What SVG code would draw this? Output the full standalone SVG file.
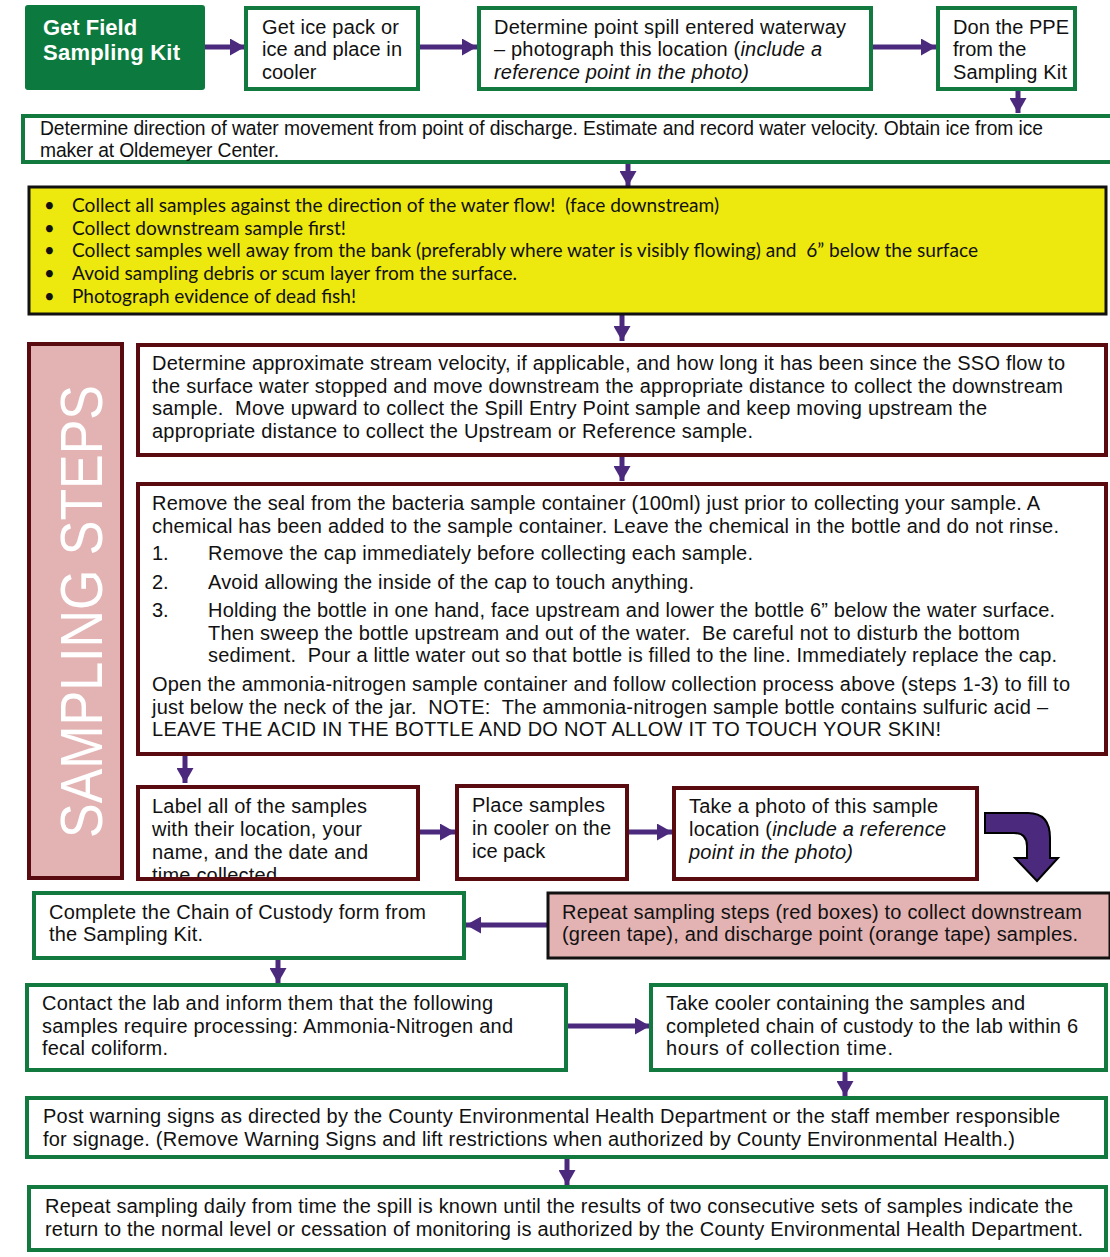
<svg xmlns="http://www.w3.org/2000/svg" width="1110" height="1257" viewBox="0 0 1110 1257">
<defs>
<style>
text{white-space:pre}
.g{fill:#fff;stroke:#137a3f;stroke-width:4}
.r{fill:#fff;stroke:#5a0b10;stroke-width:4}
.t{font-family:"Liberation Sans",Arial,sans-serif;font-size:20px;fill:#111}
.s{font-family:"Liberation Sans",Arial,sans-serif;font-size:19.3px;fill:#111}
.y{font-family:Lato,"Open Sans",sans-serif;font-size:18.5px;fill:#111}
.i{font-style:italic}
.a{stroke:#4b2a7d;stroke-width:5;fill:none;marker-end:url(#ah)}
</style>
<marker id="ah" markerUnits="userSpaceOnUse" markerWidth="15" markerHeight="17" refX="15" refY="8.5" orient="auto">
<path d="M0,0 L15,8.5 L0,17 Z" fill="#4b2a7d"/>
</marker>
</defs>
<rect width="1110" height="1257" fill="#fff"/>

<g id="connectors">
<line class="a" x1="205" y1="47" x2="245" y2="47"/>
<line class="a" x1="418" y1="47" x2="477" y2="47"/>
<line class="a" x1="871" y1="47" x2="936" y2="47"/>
<line class="a" x1="1018" y1="90" x2="1018" y2="113"/>
<line class="a" x1="628" y1="163" x2="628" y2="186"/>
<line class="a" x1="622" y1="315" x2="622" y2="341"/>
<line class="a" x1="622" y1="457" x2="622" y2="481"/>
<line class="a" x1="185" y1="756" x2="185" y2="783"/>
<line class="a" x1="419" y1="832" x2="455" y2="832"/>
<line class="a" x1="628" y1="832" x2="672" y2="832"/>
<line class="a" x1="547" y1="925" x2="466" y2="925"/>
<line class="a" x1="278" y1="959" x2="278" y2="983"/>
<line class="a" x1="567" y1="1026" x2="650" y2="1026"/>
<line class="a" x1="845" y1="1071" x2="845" y2="1096"/>
<line class="a" x1="567" y1="1159" x2="567" y2="1185"/>
<path id="curved-arrow" d="M985,813 L1028,813 Q1050,813 1050,838 L1050,858 L1058,858 L1037,881 L1015,858 L1027,858 L1027,846 Q1027,833 1014,833 L985,833 Z" fill="#4b2a7d" stroke="#000" stroke-width="2"/>
</g>

<g id="n-kit">
<rect x="25" y="5" width="180" height="85" rx="3" fill="#0c7a3e"/>
<text x="43" y="35" font-family="Liberation Sans,Arial,sans-serif" font-size="22" font-weight="bold" fill="#fff">Get Field</text>
<text x="43" y="60" font-family="Liberation Sans,Arial,sans-serif" font-size="22" font-weight="bold" fill="#fff" textLength="137">Sampling Kit</text>
</g>

<g id="n-ice">
<rect class="g" x="246" y="8" width="172" height="81"/>
<text class="t" x="262" y="34" textLength="137">Get ice pack or</text>
<text class="t" x="262" y="56" textLength="140">ice and place in</text>
<text class="t" x="262" y="79">cooler</text>
</g>

<g id="n-point">
<rect class="g" x="479" y="8" width="392" height="81"/>
<text class="t" x="494" y="34" textLength="352">Determine point spill entered waterway</text>
<text class="t" x="494" y="56" textLength="328">– photograph this location (<tspan class="i">include a</tspan></text>
<text class="t i" x="494" y="79" textLength="255">reference point in the photo)</text>
</g>

<g id="n-ppe">
<rect class="g" x="938" y="8" width="137" height="81"/>
<text class="t" x="953" y="34" textLength="116">Don the PPE</text>
<text class="t" x="953" y="56">from the</text>
<text class="t" x="953" y="79" textLength="114">Sampling Kit</text>
</g>

<g id="n-direction">
<rect class="g" x="23" y="116" width="1090" height="46"/>
<text class="s" x="40" y="135" textLength="1003">Determine direction of water movement from point of discharge. Estimate and record water velocity. Obtain ice from ice</text>
<text class="s" x="40" y="157" textLength="239">maker at Oldemeyer Center.</text>
</g>

<g id="n-tips">
<rect x="29" y="187" width="1077" height="127" fill="#ede80e" stroke="#111" stroke-width="3"/>
<g class="y">
<text x="44" y="212">•</text><text x="72" y="212" textLength="647" lengthAdjust="spacingAndGlyphs">Collect all samples against the direction of the water flow!  (face downstream)</text>
<text x="44" y="235">•</text><text x="72" y="235" textLength="274" lengthAdjust="spacingAndGlyphs">Collect downstream sample first!</text>
<text x="44" y="257">•</text><text x="72" y="257" textLength="906" lengthAdjust="spacingAndGlyphs">Collect samples well away from the bank (preferably where water is visibly flowing) and  6” below the surface</text>
<text x="44" y="280">•</text><text x="72" y="280" textLength="445" lengthAdjust="spacingAndGlyphs">Avoid sampling debris or scum layer from the surface.</text>
<text x="44" y="303">•</text><text x="72" y="303" textLength="284" lengthAdjust="spacingAndGlyphs">Photograph evidence of dead fish!</text>
</g>
</g>

<g id="n-sampling-steps">
<rect x="29" y="344" width="93" height="534" fill="#e3b3b3" stroke="#5a0b10" stroke-width="4"/>
<text transform="translate(102,838) rotate(-90)" font-family="Liberation Sans,Arial,sans-serif" font-size="60" fill="#fff" textLength="453" lengthAdjust="spacingAndGlyphs">SAMPLING STEPS</text>
</g>

<g id="n-velocity">
<rect class="r" x="138" y="345" width="968" height="110"/>
<text class="t" x="152" y="370" textLength="913">Determine approximate stream velocity, if applicable, and how long it has been since the SSO flow to</text>
<text class="t" x="152" y="393" textLength="911">the surface water stopped and move downstream the appropriate distance to collect the downstream</text>
<text class="t" x="152" y="415" textLength="835">sample.  Move upward to collect the Spill Entry Point sample and keep moving upstream the</text>
<text class="t" x="152" y="438" textLength="601">appropriate distance to collect the Upstream or Reference sample.</text>
</g>

<g id="n-collect">
<rect class="r" x="138" y="484" width="968" height="270"/>
<text class="t" x="152" y="510" textLength="888">Remove the seal from the bacteria sample container (100ml) just prior to collecting your sample. A</text>
<text class="t" x="152" y="533" textLength="907">chemical has been added to the sample container. Leave the chemical in the bottle and do not rinse.</text>
<text class="t" x="152" y="560">1.</text>
<text class="t" x="208" y="560" textLength="545">Remove the cap immediately before collecting each sample.</text>
<text class="t" x="152" y="589">2.</text>
<text class="t" x="208" y="589" textLength="486">Avoid allowing the inside of the cap to touch anything.</text>
<text class="t" x="152" y="617">3.</text>
<text class="t" x="208" y="617" textLength="847">Holding the bottle in one hand, face upstream and lower the bottle 6” below the water surface.</text>
<text class="t" x="208" y="640" textLength="812">Then sweep the bottle upstream and out of the water.  Be careful not to disturb the bottom</text>
<text class="t" x="208" y="662" textLength="849">sediment.  Pour a little water out so that bottle is filled to the line. Immediately replace the cap.</text>
<text class="t" x="152" y="691" textLength="918">Open the ammonia-nitrogen sample container and follow collection process above (steps 1-3) to fill to</text>
<text class="t" x="152" y="714" textLength="896">just below the neck of the jar.  NOTE:  The ammonia-nitrogen sample bottle contains sulfuric acid –</text>
<text class="t" x="152" y="736" textLength="789">LEAVE THE ACID IN THE BOTTLE AND DO NOT ALLOW IT TO TOUCH YOUR SKIN!</text>
</g>

<g id="n-label">
<rect x="138" y="787" width="280" height="92" fill="#fff"/>
<text class="t" x="152" y="813" textLength="215">Label all of the samples</text>
<text class="t" x="152" y="836" textLength="210">with their location, your</text>
<text class="t" x="152" y="859" textLength="216">name, and the date and</text>
<text class="t" x="152" y="882" textLength="125">time collected</text>
<rect x="138" y="787" width="280" height="92" fill="none" stroke="#5a0b10" stroke-width="4"/>
<rect x="130" y="881" width="300" height="8" fill="#fff"/>
<line x1="136" y1="879" x2="420" y2="879" stroke="#5a0b10" stroke-width="4"/>
</g>

<g id="n-place">
<rect class="r" x="457" y="786" width="170" height="93"/>
<text class="t" x="472" y="812" textLength="133">Place samples</text>
<text class="t" x="472" y="835" textLength="139">in cooler on the</text>
<text class="t" x="472" y="858">ice pack</text>
</g>

<g id="n-photo">
<rect class="r" x="674" y="788" width="303" height="91"/>
<text class="t" x="689" y="813" textLength="249">Take a photo of this sample</text>
<text class="t" x="689" y="836" textLength="257">location (<tspan class="i">include a reference</tspan></text>
<text class="t i" x="689" y="859" textLength="164">point in the photo)</text>
</g>

<g id="n-repeat">
<rect x="548" y="893" width="562" height="65" fill="#e3b3b3" stroke="#111" stroke-width="3"/>
<text class="t" x="562" y="919" textLength="520">Repeat sampling steps (red boxes) to collect downstream</text>
<text class="t" x="562" y="941" textLength="516">(green tape), and discharge point (orange tape) samples.</text>
</g>

<g id="n-custody">
<rect class="g" x="34" y="893" width="430" height="65"/>
<text class="t" x="49" y="919" textLength="377">Complete the Chain of Custody form from</text>
<text class="t" x="49" y="941" textLength="154">the Sampling Kit.</text>
</g>

<g id="n-contact">
<rect class="g" x="27" y="985" width="539" height="85"/>
<text class="t" x="42" y="1010" textLength="451">Contact the lab and inform them that the following</text>
<text class="t" x="42" y="1033" textLength="471">samples require processing: Ammonia-Nitrogen and</text>
<text class="t" x="42" y="1055" textLength="126">fecal coliform.</text>
</g>

<g id="n-cooler">
<rect class="g" x="651" y="985" width="455" height="85"/>
<text class="t" x="666" y="1010" textLength="359">Take cooler containing the samples and</text>
<text class="t" x="666" y="1033" textLength="412">completed chain of custody to the lab within 6</text>
<text class="t" x="666" y="1055" textLength="227">hours of collection time.</text>
</g>

<g id="n-signs">
<rect class="g" x="27" y="1098" width="1079" height="59"/>
<text class="t" x="43" y="1123" textLength="1017">Post warning signs as directed by the County Environmental Health Department or the staff member responsible</text>
<text class="t" x="43" y="1146" textLength="972">for signage. (Remove Warning Signs and lift restrictions when authorized by County Environmental Health.)</text>
</g>

<g id="n-daily">
<rect class="g" x="29" y="1187" width="1077" height="63"/>
<text class="t" x="45" y="1213" textLength="1028">Repeat sampling daily from time the spill is known until the results of two consecutive sets of samples indicate the</text>
<text class="t" x="45" y="1236" textLength="1038">return to the normal level or cessation of monitoring is authorized by the County Environmental Health Department.</text>
</g>
</svg>
